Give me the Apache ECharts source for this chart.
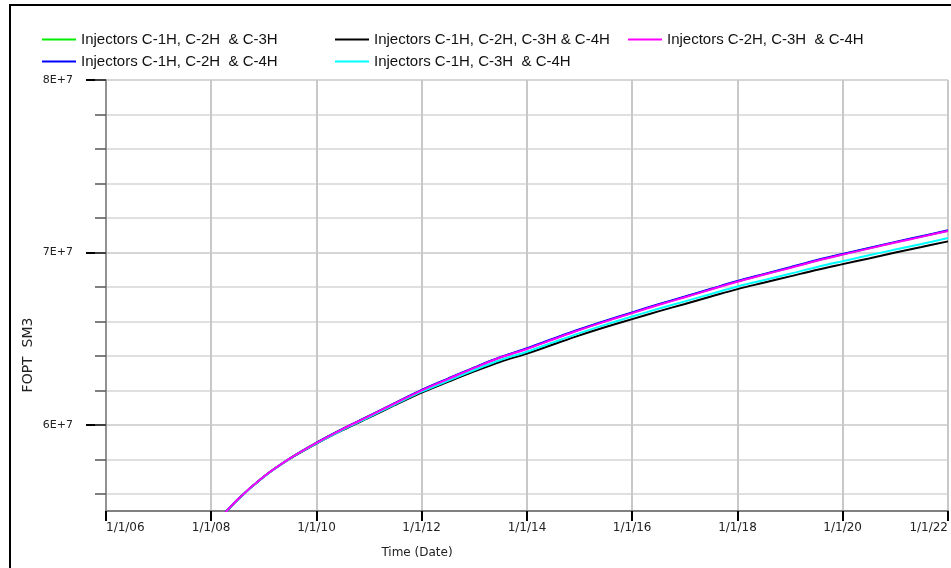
<!DOCTYPE html>
<html><head><meta charset="utf-8">
<script src="https://cdn.jsdelivr.net/npm/echarts@6/dist/echarts.min.js"></script>
<style>html,body{margin:0;padding:0;background:#fff}#c{width:951px;height:568px}</style>
</head><body><div id="c"></div>
<script>
// Dates (semiannual samples)
const dates = ['2008-01-01','2008-07-01','2009-01-01','2009-07-01','2010-01-01','2010-07-01','2011-01-01','2011-07-01',
  '2012-01-01','2012-07-01','2013-01-01','2013-07-01','2014-01-01','2014-07-01','2015-01-01','2015-07-01',
  '2016-01-01','2016-07-01','2017-01-01','2017-07-01','2018-01-01','2018-07-01','2019-01-01','2019-07-01',
  '2020-01-01','2020-07-01','2021-01-01','2021-07-01','2022-01-01'];

// FOPT values in units of 1E+7 SM3
const greenVals   = [5.400,5.565,5.700,5.805,5.896,5.976,6.051,6.126,6.201,6.266,6.331,6.391,6.442,6.497,6.552,6.602,6.650,6.697,6.742,6.787,6.832,6.872,6.912,6.952,6.989,7.024,7.059,7.092,7.126];
const blackVals   = [5.400,5.564,5.699,5.803,5.891,5.969,6.042,6.115,6.187,6.249,6.310,6.366,6.413,6.466,6.519,6.567,6.613,6.658,6.701,6.744,6.787,6.824,6.861,6.898,6.932,6.965,6.999,7.031,7.064];
const magentaVals = [5.400,5.565,5.700,5.805,5.895,5.975,6.050,6.125,6.200,6.265,6.330,6.390,6.440,6.495,6.550,6.600,6.648,6.695,6.740,6.785,6.830,6.870,6.910,6.950,6.987,7.022,7.057,7.090,7.124];
const blueVals    = [5.400,5.565,5.700,5.806,5.896,5.976,6.051,6.127,6.202,6.268,6.333,6.393,6.444,6.499,6.554,6.604,6.652,6.699,6.744,6.789,6.834,6.874,6.914,6.954,6.991,7.026,7.061,7.094,7.128];
const cyanVals    = [5.400,5.564,5.699,5.804,5.892,5.971,6.045,6.119,6.192,6.255,6.318,6.376,6.424,6.478,6.532,6.581,6.628,6.673,6.716,6.759,6.802,6.839,6.876,6.914,6.949,6.983,7.017,7.049,7.083];

const names = {
  green: 'Injectors C-1H, C-2H  & C-3H',
  black: 'Injectors C-1H, C-2H, C-3H & C-4H',
  magenta: 'Injectors C-2H, C-3H  & C-4H',
  blue: 'Injectors C-1H, C-2H  & C-4H',
  cyan: 'Injectors C-1H, C-3H  & C-4H'
};

// Axis ticks
const xFirstYear = 2006, xLastYear = 2022, xTickStepYears = 2;
const yMajorTicks = [6,7,8];
const yMinorTicks = [5.6,5.8,6.0,6.2,6.4,6.6,6.8,7.0,7.2,7.4,7.6,7.8,8.0];
const yMin = 5.5, yMax = 8;

const DAY = 86400000;

function mk(name, color, vals) {
  return {
    name: name, type: 'line', showSymbol: false, smooth: 0.35,
    lineStyle: {color: color, width: 2}, itemStyle: {color: color},
    data: dates.map((d,i) => [d, vals[i]]), clip: true
  };
}

const legendText = {fontFamily: 'Liberation Sans, Arial, sans-serif', fontSize: 15, color: '#111', lineHeight: 17};
function lg(left, data) {
  return {left: left, top: 31, padding: 0, orient: 'vertical', itemGap: 5, itemWidth: 34, itemHeight: 2,
    icon: 'rect', itemTextGap: 4, selectedMode: false, textStyle: legendText, data: data};
}

const chart = echarts.init(document.getElementById('c'), null, {renderer: 'canvas'});
chart.setOption({
  backgroundColor: '#fff',
  animation: false,
  grid: {left: 106, right: 1, top: 80, bottom: 57, containLabel: false},
  legend: [
    lg(42, [names.green, names.blue]),
    lg(335, [names.black, names.cyan]),
    lg(628, [names.magenta])
  ],
  xAxis: {
    type: 'time',
    min: new Date(xFirstYear,0,1).getTime(), max: new Date(xLastYear,0,1).getTime(),
    splitNumber: 8,
    minInterval: xTickStepYears * 365 * DAY,
    maxInterval: xTickStepYears * 366 * DAY,
    axisLine: {show: true, lineStyle: {color: '#808080', width: 2}},
    axisTick: {show: true, length: 10, lineStyle: {color: '#000', width: 2}},
    axisLabel: {margin: 11, color: '#222', fontFamily: 'DejaVu Sans', fontSize: 12,
      showMinLabel: true, showMaxLabel: true,
      alignMinLabel: 'left', alignMaxLabel: 'right',
      formatter: v => { const d = new Date(v); return (d.getMonth()+1) + '/' + d.getDate() + '/' + String(d.getFullYear()).slice(2); }},
    splitLine: {show: true, lineStyle: {color: '#c8c8c8', width: 2}}
  },
  yAxis: [
    {
      type: 'value', min: yMin, max: yMax, position: 'left',
      axisLine: {show: true, lineStyle: {color: '#808080', width: 1.5}},
      axisTick: {show: true, customValues: yMajorTicks, length: 20, lineStyle: {color: '#000', width: 2}},
      axisLabel: {customValues: yMajorTicks, margin: 33, color: '#222', fontFamily: 'DejaVu Sans', fontSize: 11,
        padding: [6, 0, 0, 0],
        formatter: v => Math.round(v) + 'E+7'},
      splitLine: {show: true, lineStyle: {color: '#c8c8c8', width: 1.5}}
    },
    {
      type: 'value', min: yMin, max: yMax, position: 'left',
      axisLine: {show: false},
      axisTick: {show: true, customValues: yMinorTicks, length: 11, lineStyle: {color: '#555', width: 1.5}},
      axisLabel: {show: false},
      splitLine: {show: true, lineStyle: {color: '#d6d6d6', width: 1.5}}
    }
  ],
  graphic: [
    {type: 'rect', silent: true, z: 100, shape: {x: 10, y: 5, width: 1200, height: 800},
      style: {fill: 'none', stroke: '#000', lineWidth: 2}},
    {type: 'text', silent: true, x: 417, y: 553,
      style: {text: 'Time (Date)', font: '12px DejaVu Sans', fill: '#222', textAlign: 'center', textVerticalAlign: 'middle', verticalAlign: 'middle'}},
    {type: 'text', silent: true, x: 28, y: 355, rotation: Math.PI/2,
      style: {text: 'FOPT  SM3', font: '14px DejaVu Sans', fill: '#222', textAlign: 'center', textVerticalAlign: 'middle', verticalAlign: 'middle'}}
  ],
  series: [
    mk(names.green, '#00ee00', greenVals),
    mk(names.black, '#000000', blackVals),
    mk(names.blue, '#0000ff', blueVals),
    mk(names.cyan, '#00ffff', cyanVals),
    mk(names.magenta, '#ff00ff', magentaVals)
  ]
});
</script></body></html>
